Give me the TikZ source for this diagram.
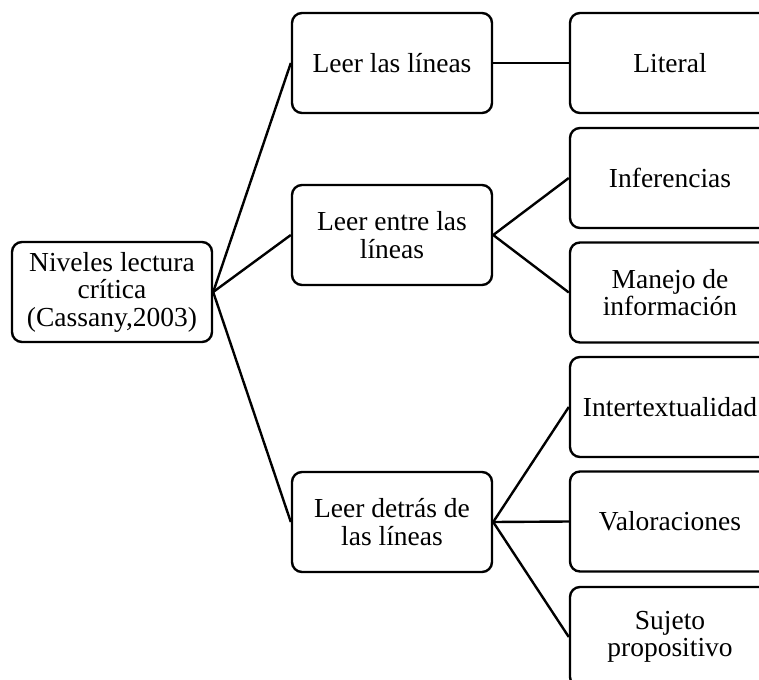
\documentclass[tikz,border=0pt]{standalone}
\usepackage{fontspec}
\setmainfont{Liberation Serif}
\begin{document}
\begin{tikzpicture}[x=1pt,y=-1pt,
  box/.style={draw, line width=2.4pt, rounded corners=10pt, rectangle,
    minimum width=200pt, minimum height=100pt, inner sep=0pt, align=center,
    font=\fontsize{27.5}{27.5}\selectfont},
  link/.style={line width=2.4pt}]
\useasboundingbox (0,0) rectangle (759,679);
\clip (0,0) rectangle (759,679);
\node[box] (root) at (112,292) {Niveles lectura\\crítica\\(Cassany,2003)};
\node[box] (m1) at (392,63) {Leer las líneas};
\node[box] (m2) at (392,235) {Leer entre las\\líneas};
\node[box] (m3) at (392,522) {Leer detrás de\\las líneas};
\node[box] (r1) at (670,63) {Literal};
\node[box] (r2) at (670,178) {Inferencias};
\node[box] (r3) at (670,292.5) {Manejo de\\información};
\node[box] (r4) at (670,407) {Intertextualidad};
\node[box] (r5) at (670,521.5) {Valoraciones};
\node[box] (r6) at (670,637) {Sujeto\\propositivo};
\draw[link] (root.east) -- (m1.west);
\draw[link] (root.east) -- (m2.west);
\draw[link] (root.east) -- (m3.west);
\draw[link] (m1.east) -- (r1.west);
\draw[link] (m2.east) -- (r2.west);
\draw[link] (m2.east) -- (r3.west);
\draw[link] (m3.east) -- (r4.west);
\draw[link] (m3.east) -- (r5.west);
\draw[link] (m3.east) -- (r6.west);
\end{tikzpicture}
\end{document}
